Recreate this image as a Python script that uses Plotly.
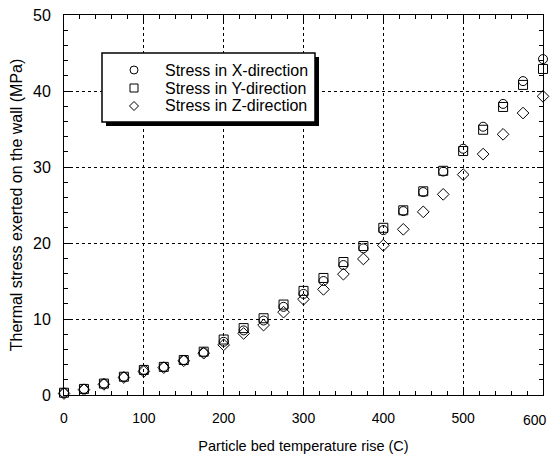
import plotly.graph_objects as go

temperature_rise = [0, 25, 50, 75, 100, 125, 150, 175, 200, 225, 250, 275, 300,
                    325, 350, 375, 400, 425, 450, 475, 500, 525, 550, 575, 600]
stress_x = [0.3, 0.8, 1.5, 2.4, 3.3, 3.7, 4.6, 5.6, 7.0, 8.5, 9.8, 11.6, 13.3,
            15.0, 17.1, 19.3, 21.7, 24.2, 26.7, 29.4, 32.4, 35.3, 38.3, 41.3, 44.2]
stress_y = [0.3, 0.8, 1.5, 2.4, 3.3, 3.7, 4.6, 5.7, 7.3, 8.8, 10.1, 11.9, 13.7,
            15.4, 17.5, 19.6, 22.0, 24.3, 26.8, 29.5, 32.1, 34.9, 37.9, 40.8, 42.9]
stress_z = [0.2, 0.7, 1.4, 2.3, 3.1, 3.6, 4.5, 5.5, 6.6, 8.1, 9.2, 10.9, 12.6,
            13.9, 15.9, 17.9, 19.7, 21.8, 24.1, 26.4, 29.0, 31.7, 34.3, 37.1, 39.3]

series_names = ["Stress in X-direction", "Stress in Y-direction", "Stress in Z-direction"]
x_ticks = [0, 100, 200, 300, 400, 500, 600]
y_ticks = [0, 10, 20, 30, 40, 50]

FONT = "Liberation Sans, Arial, Helvetica, sans-serif"
symbols = ["circle-open", "square-open", "diamond-open"]

fig = go.Figure()
for name, vals, sym in zip(series_names, [stress_x, stress_y, stress_z], symbols):
    fig.add_trace(go.Scatter(
        x=temperature_rise, y=vals, mode="markers", name=name,
        marker=dict(symbol=sym, size=9, color="black", line=dict(width=1, color="black")),
        cliponaxis=False, showlegend=False,
    ))

axis_common = dict(
    showline=True, linecolor="black", linewidth=1, mirror="ticks",
    ticks="inside", ticklen=6, tickcolor="black", tickwidth=1,
    showgrid=True, gridcolor="black", gridwidth=1, griddash="dot",
    zeroline=False, automargin=False, ticklabeloverflow="allow",
)

X_TICK_FONT = dict(family=FONT, size=14, color="black")
# the last label sits pulled in from the edge (as in the reference), drawn as an annotation below
fig.update_xaxes(
    range=[0, 600], tickvals=x_ticks,
    ticktext=[str(v) if v != x_ticks[-1] else "" for v in x_ticks],
    tickfont=X_TICK_FONT, ticklabelstandoff=10,
    minor=dict(dtick=20, tick0=0, ticks="inside", ticklen=4, tickcolor="black", showgrid=False),
    title=dict(text="Particle bed temperature rise (C)", font=dict(family=FONT, size=14.5, color="black"),
               standoff=16),
    **axis_common,
)
fig.update_yaxes(
    range=[0, 50], tickvals=y_ticks, ticktext=[str(v) for v in y_ticks],
    tickfont=dict(family=FONT, size=16, color="black"), ticklabelstandoff=9,
    minor=dict(dtick=2, tick0=0, ticks="inside", ticklen=4, tickcolor="black", showgrid=False),
    title=dict(text="Thermal stress exerted on the wall (MPa)", font=dict(family=FONT, size=16, color="black"),
               standoff=6),
    **axis_common,
)

L, R, T, B = 64, 10, 15, 63
W, H = 553, 458
pw, ph = W - L - R, H - T - B

def px_x(p):
    return (p - L) / pw

def px_y(p):
    return (H - B - p) / ph

fig.add_annotation(xref="x", yref="paper", x=x_ticks[-1], y=px_y(420),
                   xanchor="center", yanchor="middle", xshift=-8, showarrow=False,
                   text=str(x_ticks[-1]), font=X_TICK_FONT)

# legend box with drop shadow
box_l, box_r, box_t, box_b, shadow = 102, 315, 53, 122, 4
fig.add_shape(type="rect", xref="paper", yref="paper",
              x0=px_x(box_l + shadow), x1=px_x(box_r + shadow),
              y0=px_y(box_b + shadow), y1=px_y(box_t + shadow),
              fillcolor="black", line=dict(width=0), layer="above")
fig.add_shape(type="rect", xref="paper", yref="paper",
              x0=px_x(box_l), x1=px_x(box_r), y0=px_y(box_b), y1=px_y(box_t),
              fillcolor="white", line=dict(width=1.5, color="black"), layer="above")

row_y = [70, 88, 106]
key_x = 134
text_x = 163
for i, (name, sym) in enumerate(zip(series_names, symbols)):
    ax, ay = px_x(key_x), px_y(row_y[i])
    common = dict(xref="paper", yref="paper", xsizemode="pixel", ysizemode="pixel",
                  xanchor=ax, yanchor=ay, line=dict(width=1, color="black"),
                  fillcolor="rgba(0,0,0,0)", layer="above")
    if sym.startswith("circle"):
        fig.add_shape(type="circle", x0=-4, x1=4, y0=-4, y1=4, **common)
    elif sym.startswith("square"):
        fig.add_shape(type="rect", x0=-4, x1=4, y0=-4, y1=4, **common)
    else:
        fig.add_shape(type="path", path="M 0,-4.5 L 4.5,0 L 0,4.5 L -4.5,0 Z", **common)
    fig.add_annotation(xref="paper", yref="paper", x=px_x(text_x), y=ay,
                       xanchor="left", yanchor="middle", showarrow=False, text=name,
                       font=dict(family=FONT, size=16, color="black"))

fig.update_layout(
    width=W, height=H,
    margin=dict(l=L, r=R, t=T, b=B),
    paper_bgcolor="white", plot_bgcolor="white",
    font=dict(family=FONT, size=14, color="black"),
    showlegend=False,
)

fig.write_html("out.html", config={"displayModeBar": False},
               post_script="document.body.style.margin='0';document.body.style.padding='0';")
